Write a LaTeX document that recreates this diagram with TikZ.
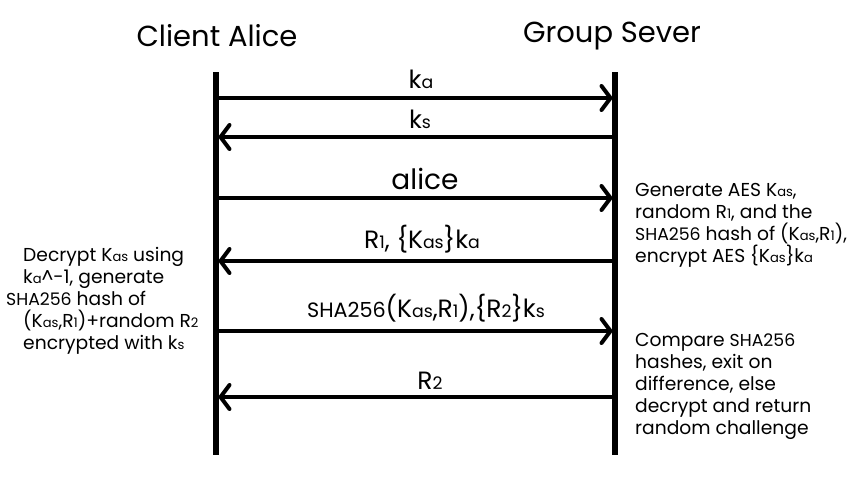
\documentclass[tikz,border=0pt]{standalone}
\usepackage{fontspec}
\setmainfont{Poppins}
\usepackage{relsize}
\usetikzlibrary{arrows.meta}
\newcommand{\lo}[1]{{\relscale{0.7}#1}}
\newcommand{\sm}[1]{{\relscale{0.88}#1}}

\begin{document}
\begin{tikzpicture}[x=1pt, y=-1pt,
  head/.style={font=\fontsize{29}{32}\selectfont},
  lbl/.style={anchor=base, font=\fontsize{25}{29}\selectfont},
  note/.style={anchor=north west, align=left, inner sep=0pt, font=\fontsize{18.7}{21.9}\selectfont},
  lifeline/.style={line width=6pt},
  msg/.style={line width=4pt, -{Straight Barb[length=9pt, width=24pt, line cap=round]}}]
  \useasboundingbox (0,0) rectangle (868,493);

  \node[head] (alice) at (217,36) {Client Alice};
  \node[head] (server) at (612,36) {Group Sever};

  \coordinate (atop) at (216,72); \coordinate (abot) at (216,455);
  \coordinate (stop) at (615,72); \coordinate (sbot) at (615,455);
  \draw[lifeline] (atop) -- (abot);
  \draw[lifeline] (stop) -- (sbot);

  \coordinate (a1) at (216,98);  \coordinate (s1) at (613,98);
  \draw[msg] (a1) -- (s1); \node[lbl] (l1) at (421,88) {k\lo{a}};

  \coordinate (a2) at (218,137); \coordinate (s2) at (615,137);
  \draw[msg] (s2) -- (a2); \node[lbl] (l2) at (420,128) {k\lo{s}};

  \coordinate (a3) at (216,198); \coordinate (s3) at (613,198);
  \draw[msg] (a3) -- (s3);
  \node[lbl, font=\fontsize{28}{32}\selectfont] (l3) at (425,189) {alice};

  \coordinate (a4) at (218,261); \coordinate (s4) at (615,261);
  \draw[msg] (s4) -- (a4); \node[lbl] (l4) at (422,248) {R\lo{1}, \{K\lo{as}\}k\lo{a}};

  \coordinate (a5) at (216,331); \coordinate (s5) at (613,331);
  \draw[msg] (a5) -- (s5);
  \node[lbl] (l5) at (426,317) {\sm{SHA256}(K\lo{as},R\lo{1}),\{R\lo{2}\}k\lo{s}};

  \coordinate (a6) at (218,397); \coordinate (s6) at (615,397);
  \draw[msg] (s6) -- (a6); \node[lbl] (l6) at (430,389) {R\lo{2}};

  \node[note] (decrypt) at (23,247) {Decrypt K\lo{as} using\\
    k\lo{a}\textasciicircum-1, generate\\
    \hspace*{-17pt}\sm{SHA256} hash of\\
    (K\lo{as},R\lo{1})+random R\lo{2}\\
    encrypted with k\lo{s}};

  \node[note] (generate) at (635,183) {Generate AES K\lo{as},\\
    random R\lo{1}, and the\\
    \sm{SHA256} hash of (K\lo{as},R\lo{1}),\\
    encrypt AES \{K\lo{as}\}k\lo{a}};

  \node[note] (compare) at (635,333) {Compare \sm{SHA256}\\
    hashes, exit on\\
    difference, else\\
    decrypt and return\\
    random challenge};
\end{tikzpicture}
\end{document}
